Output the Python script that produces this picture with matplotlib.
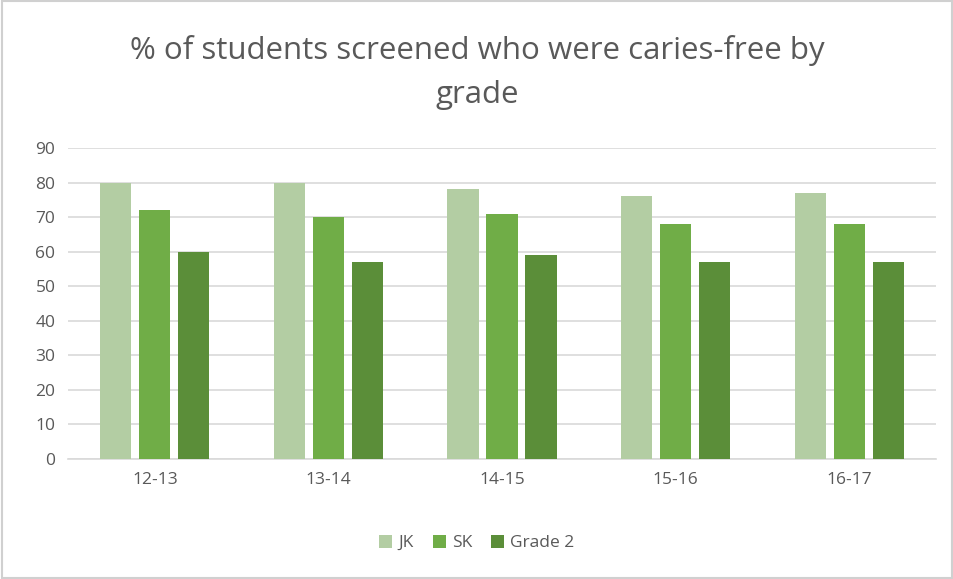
import matplotlib
matplotlib.use("Agg")
import matplotlib.pyplot as plt
import numpy as np
from matplotlib.patches import Rectangle

categories = ["12-13", "13-14", "14-15", "15-16", "16-17"]
series_names = ["JK", "SK", "Grade 2"]
jk = [80, 80, 78, 76, 77]
sk = [72, 70, 71, 68, 68]
grade2 = [60, 57, 59, 57, 57]
yticks = [0, 10, 20, 30, 40, 50, 60, 70, 80, 90]

colors = ["#B3CDA3", "#70AD47", "#5B8E39"]
text_color = "#595959"

plt.rcParams['font.family'] = ['Open Sans', 'DejaVu Sans']

fig = plt.figure(figsize=(9.54, 5.79), dpi=100)
ax = fig.add_axes([68/954, 1 - 459/579, 868/954, 311/579])

x = np.arange(len(categories))
step = 0.225
width = 0.18
for i, (vals, name) in enumerate(zip([jk, sk, grade2], series_names)):
    ax.bar(x + (i - 1) * step, vals, width=width, color=colors[i], label=name, zorder=3)

ax.set_xlim(-0.5, len(categories) - 0.5)
ax.set_ylim(0, 90)
ax.set_yticks(yticks)
ax.set_xticks(x)
ax.set_xticklabels(categories)
ax.grid(axis='y', color="#D9D9D9", linewidth=1.2, zorder=0)
for s in ["top", "right", "left"]:
    ax.spines[s].set_visible(False)
ax.spines["bottom"].set_color("#D9D9D9")
ax.spines["bottom"].set_linewidth(1.2)
ax.tick_params(axis='both', length=0, labelsize=12.5, colors=text_color)
ax.tick_params(axis='x', pad=9)
ax.tick_params(axis='y', pad=9)

fig.text(0.5, 1 - 50/579, "% of students screened who were caries-free by", ha='center', va='center',
         fontsize=22.5, color=text_color)
fig.text(0.5, 1 - 95/579, "grade", ha='center', va='center', fontsize=22.5, color=text_color)

leg = fig.legend(loc='center', bbox_to_anchor=(0.5, 1 - 543/579), ncol=3, frameon=False,
                 fontsize=12.5, handlelength=0.75, handleheight=0.75, handletextpad=0.35, columnspacing=1.1,
                 labelcolor=text_color)

fig.patches.append(Rectangle((0.002, 0.002), 0.996, 0.996, transform=fig.transFigure,
                             fill=False, edgecolor="#D0D0D0", linewidth=1.5))

fig.savefig("out.png", dpi=100)
